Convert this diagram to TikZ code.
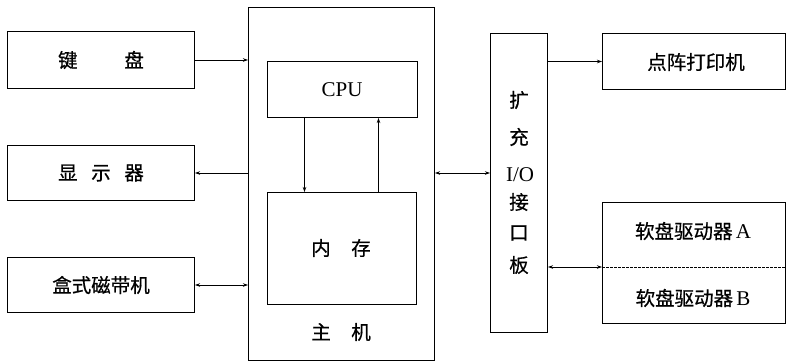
\documentclass[tikz,border=0pt]{standalone}
\usepackage{fontspec}
\newfontfamily\cjk[FakeBold=0.6]{Noto Sans CJK SC}
\newfontfamily\latf{Liberation Serif}
\usetikzlibrary{arrows.meta}
\begin{document}
\begin{tikzpicture}[x=1pt,y=-1pt,
  box/.style={draw, line width=1pt, inner sep=0pt, anchor=north west},
  lbl/.style={font=\fontsize{19.5}{21}\selectfont\cjk, inner sep=0pt},
  lat/.style={font=\fontsize{21}{23}\selectfont\latf, inner sep=0pt},
  arr/.style={line width=0.75pt, -{Stealth[length=5pt,width=3.5pt]}},
  darr/.style={line width=0.75pt, {Stealth[length=5pt,width=3.5pt]}-{Stealth[length=5pt,width=3.5pt]}}]
\useasboundingbox (0,0) rectangle (787,362);
% left devices
\node[box, minimum width=187pt, minimum height=57pt] (kb) at (7,31) {};
\node[lbl] (kbt) at (kb.center) {键\hspace{2.4em}盘};
\node[box, minimum width=187pt, minimum height=55pt] (disp) at (7,145) {};
\node[lbl] (dispt) at (disp.center) {显\hspace{0.7em}示\hspace{0.7em}器};
\node[box, minimum width=187pt, minimum height=55pt] (tape) at (7,257) {};
\node[lbl] (tapet) at (tape.center) {盒式磁带机};
% main unit
\node[box, minimum width=186pt, minimum height=353pt] (main) at (248,7) {};
\node[box, minimum width=150pt, minimum height=56pt] (cpu) at (267,61) {};
\node[lat] (cput) at (342,90) {CPU};
\node[box, minimum width=149pt, minimum height=112pt] (mem) at (267,192) {};
\node[lbl] (memt) at (341,248) {内\hspace{1.05em}存};
\node[lbl] (maint) at (341,332) {主\hspace{1.05em}机};
% expansion board
\node[box, minimum width=57pt, minimum height=299pt] (bd) at (490,33) {};
\node[lbl] (b1) at (519,100) {扩};
\node[lbl] (b2) at (519,137) {充};
\node[lat] (b3) at (520,175) {I/O};
\node[lbl] (b4) at (519,202) {接};
\node[lbl] (b5) at (519,233) {口};
\node[lbl] (b6) at (519,265) {板};
% right devices
\node[box, minimum width=183pt, minimum height=56pt] (prn) at (602,33) {};
\node[lbl] (prnt) at (696,62) {点阵打印机};
\node[box, minimum width=183pt, minimum height=121pt] (fd) at (602,202) {};
\coordinate (fdmid) at (602,267);
\draw[line width=0.75pt, dash pattern=on 2.5pt off 1.5pt] (fdmid) -- (fd.east |- fdmid);
\node[lbl] (fda) at (693,231) {软盘驱动器\,{\fontsize{21}{23}\selectfont\latf A}};
\node[lbl] (fdb) at (693,298) {软盘驱动器\,{\fontsize{21}{23}\selectfont\latf B}};
% connectors
\draw[arr] (kb.east) -- (kb.east -| main.west);
\draw[arr] (main.west |- disp.east) -- (disp.east);
\draw[darr] (tape.east) -- (tape.east -| main.west);
\draw[arr] ([xshift=-38pt]cpu.south) -- ([xshift=-38pt]cpu.south |- mem.north);
\draw[arr] ([xshift=36pt]cpu.south |- mem.north) -- ([xshift=36pt]cpu.south);
\draw[darr] (main.east |- disp.east) -- (bd.west |- disp.east);
\draw[arr] (bd.east |- prn.west) -- (prn.west);
\draw[darr] (bd.east |- fdmid) -- (fdmid);
\end{tikzpicture}
\end{document}
